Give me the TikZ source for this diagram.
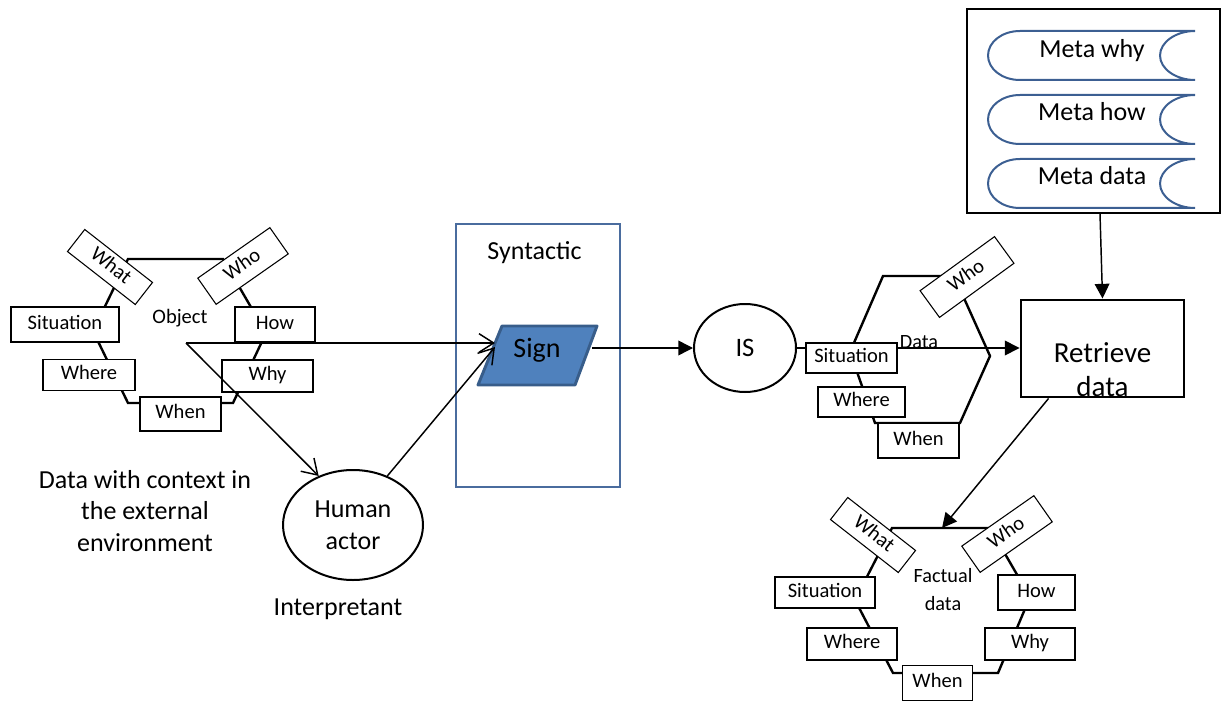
\documentclass[tikz,border=0pt]{standalone}
\usepackage{fontspec}
\setmainfont{Carlito}
\usetikzlibrary{arrows.meta,shapes.geometric,calc}
\definecolor{signfill}{HTML}{4F81BD}
\definecolor{signedge}{HTML}{385D8A}
\definecolor{frameblue}{HTML}{4A6C9E}
\definecolor{metablue}{HTML}{3C5F92}
\begin{document}
\begin{tikzpicture}[x=0.75pt,y=-0.75pt,
  sz/.style 2 args={minimum width=#1*0.75pt, minimum height=#2*0.75pt},
  ctx/.style={draw, fill=white, line width=0.8pt, inner sep=0pt,
    font=\fontsize{15.4}{18}\selectfont, text height=11.1pt, text depth=4.3pt},
  hexline/.style={line width=1.8pt},
  conn/.style={line width=1.1pt},
  openarr/.style={conn, -{Straight Barb[length=11pt,width=14pt]}},
  filledarr/.style={conn, -{Triangle[length=11pt,width=11pt]}},
  bigtext/.style={inner sep=0pt, font=\fontsize{19.5}{24}\selectfont},
  smalltext/.style={inner sep=0pt, font=\fontsize{15.2}{21}\selectfont},
  metaline/.style={draw=metablue, line width=1.5pt}
]
\useasboundingbox (0,0) rectangle (1226,702);

% ---------- hexagon outlines ----------
\draw[hexline] (128,259) -- (223,259) -- (266,333) -- (233,403) -- (128,403) -- (93,331) -- cycle;
\draw[hexline] (883,276) -- (954,276) -- (990,356) -- (960,423) -- (875,423) -- (850,352) -- cycle;
\draw[hexline] (892,528) -- (990,528) -- (1030,597) -- (998,673) -- (893,673) -- (855,600) -- cycle;

% ---------- main nodes ----------
\node[draw=frameblue, line width=1.1pt, sz={164}{263}] (syn) at (538,355.5) {};
\node[bigtext, anchor=base] (syntxt) at (534.5,259) {Syntactic};

\draw[draw=signedge, fill=signfill, line width=2.2pt, line join=round]
  (502,326) -- (597,326) -- (575,385) -- (478,385) -- cycle;
\node[inner sep=0pt, font=\fontsize{21}{24}\selectfont] (sign) at (537,350) {Sign};
\coordinate (signInA) at (495,343);
\coordinate (signInB) at (495,347);
\coordinate (signOut) at (592,348);

\node[draw, ellipse, line width=1.5pt, sz={102}{88}, inner sep=0pt,
  font=\fontsize{20}{24}\selectfont] (is) at (745,348) {IS};

\node[draw, line width=2.2pt, sz={163}{97}] (retr) at (1102.5,348.5) {};
\node[align=center, inner sep=0pt, font=\fontsize{21.75}{25.5}\selectfont] (retrtxt) at (1102.5,370) {Retrieve\\data};

\node[draw, ellipse, line width=1.5pt, sz={140}{110}, inner sep=0pt, align=center,
  font=\fontsize{19.5}{24}\selectfont] (human) at (353,525) {Human\\actor};
\node[bigtext, anchor=base] (interp) at (338,615) {Interpretant};
\node[align=center, inner sep=0pt, font=\fontsize{19.5}{23.6}\selectfont] (envtxt) at (145,511)
  {Data with context in\\the external\\environment};

% ---------- metadata store ----------
\node[draw, line width=1.5pt, sz={253}{204}] (meta) at (1093.5,111) {};
\foreach \t in {31,95,159}{
  \draw[metaline] (1020,\t) -- (1195,\t)
    .. controls (1176,\t) and (1160,{\t+11}) .. (1160,{\t+24.5})
    .. controls (1160,{\t+38}) and (1176,{\t+49}) .. (1195,{\t+49})
    -- (1020,{\t+49})
    .. controls (1002,{\t+49}) and (988,{\t+38}) .. (988,{\t+24.5})
    .. controls (988,{\t+11}) and (1002,\t) .. cycle;
}
\node[bigtext, anchor=base] (mwhy) at (1092,58) {Meta why};
\node[bigtext, anchor=base] (mhow) at (1092,121) {Meta how};
\node[bigtext, anchor=base] (mdata) at (1092,185) {Meta data};

% ---------- data flow behind the middle boxes ----------
\draw[filledarr] (is.east) -- (is.east -| retr.west);
\node[smalltext, anchor=base] (datalbl) at (919,348) {Data};

% ---------- left context group ----------
\node[ctx, sz={108}{35}] (sitL) at (65,324.5) {Situation};
\node[ctx, sz={92}{31}] (whereL) at (89,375) {Where};
\node[ctx, sz={81}{34}] (whenL) at (180.5,414) {When};
\node[ctx, sz={91}{32}] (whyL) at (267.5,376) {Why};
\node[ctx, sz={80}{35}] (howL) at (275,324.5) {How};
\node[ctx, sz={86}{28}, rotate=-38] (whatL) at (110,267) {What};
\node[ctx, sz={88}{32}, rotate=35] (whoL) at (243,266) {Who};
\node[inner sep=0pt, anchor=base, font=\fontsize{15.4}{18}\selectfont] (object) at (180,323) {Object};

% ---------- middle context group ----------
\node[ctx, sz={91}{30}] (sitM) at (851.5,358) {Situation};
\node[ctx, sz={87}{30}] (whereM) at (861.5,402) {Where};
\node[ctx, sz={81}{35}] (whenM) at (918.5,440.5) {When};
\node[ctx, sz={92}{33}, rotate=36] (whoM) at (967,277) {Who};

% ---------- lower context group ----------
\node[ctx, sz={100}{31}] (sitB) at (825,592.5) {Situation};
\node[ctx, sz={77}{35}] (howB) at (1036.5,592.5) {How};
\node[ctx, sz={90}{32}] (whereB) at (852,644) {Where};
\node[ctx, sz={90}{32}] (whyB) at (1030,644) {Why};
\node[ctx, sz={70}{35}] (whenB) at (937.5,683) {When};
\node[ctx, sz={86}{28}, rotate=-38] (whatB) at (873,535) {What};
\node[ctx, sz={88}{32}, rotate=35] (whoB) at (1007,534) {Who};
\node[align=center, inner sep=0pt, font=\fontsize{15.2}{21}\selectfont] (factual) at (943,590) {Factual\\data};
\coordinate (factTop) at (942,528);

% ---------- connectors ----------
\coordinate (objsrc) at (186,343);
\draw[openarr] (objsrc) -- (signInA);
\draw[openarr] (objsrc) -- (human.125);
\draw[openarr] (human.55) -- (signInB);
\draw[filledarr] (signOut) -- (signOut -| is.west);
\draw[filledarr] ($(meta.south)+(6.5,0)$) -- (retr.north);
\draw[filledarr] ($(retr.south west)+(29,0)$) -- (factTop);
\end{tikzpicture}
\end{document}
